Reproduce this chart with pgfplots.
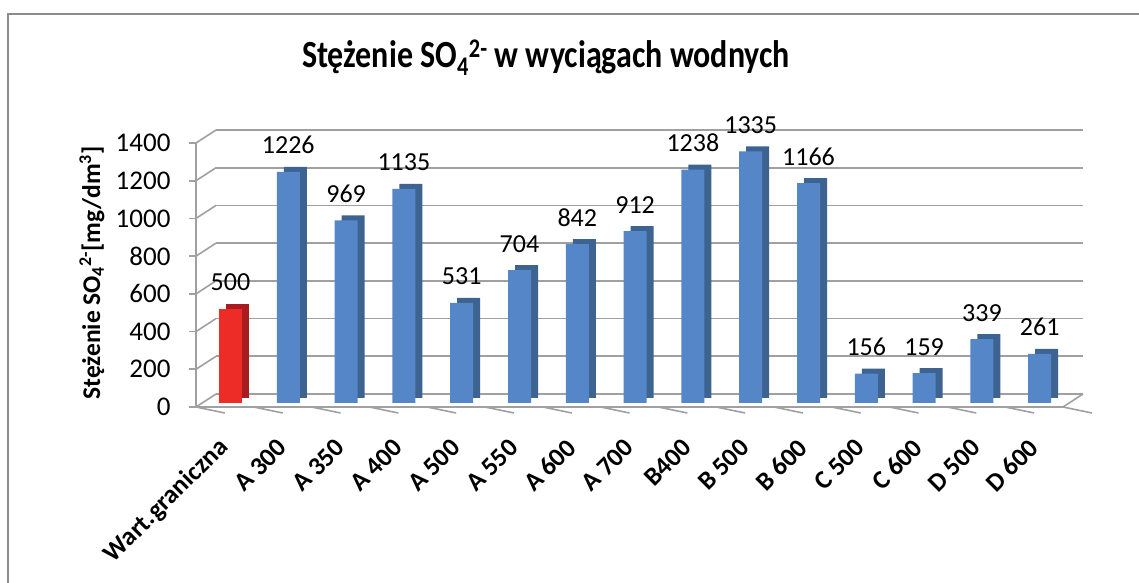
\documentclass[border=0pt]{standalone}
\usepackage{graphicx}
\usepackage{pgfplots}
\pgfplotsset{compat=1.18}
\usepackage{fontspec}
\setmainfont{Carlito}
\definecolor{barfront}{HTML}{5587C8}
\definecolor{barside}{HTML}{3D6391}
\definecolor{redfront}{HTML}{EE2C27}
\definecolor{redside}{HTML}{A81C20}
\definecolor{gridgray}{HTML}{A0A0A0}
\definecolor{framegray}{HTML}{8C8C8C}

\pgfplotsset{
  base/.style={
    scale only axis, width=867bp, height=264bp,
    xmin=-0.5, xmax=14.5, ymin=0, ymax=1400,
    anchor=south west, clip=false,
    /pgf/number format/1000 sep={},
    /pgf/number format/assume math mode=true,
  },
  bare/.style={
    base, axis line style={draw=none}, xtick=\empty, ytick=\empty,
  },
}

\begin{document}
\begin{tikzpicture}
\path[use as bounding box] (0,0) rectangle (1139bp,583bp);
\draw[framegray, line width=2bp] (8bp,0) -- (8bp,569bp) -- (1139bp,569bp);

% back wall grid
\begin{axis}[base, at={(216bp,189bp)},
  axis line style={draw=none}, xtick=\empty,
  ytick={0,200,...,1400}, yticklabels={}, major tick length=0pt,
  ymajorgrids, grid style={gridgray, line width=1.6bp}]
\end{axis}

% front axis with ticks, labels
\begin{axis}[base, at={(196bp,176bp)},
  axis lines=left, axis line style={-, gridgray, line width=1.6bp},
  ytick={0,200,...,1400}, tick align=outside, major tick length=7bp,
  ytick style={gridgray, line width=1.6bp},
  yticklabel style={font=\fontsize{27bp}{30bp}\selectfont, xshift=-15bp},
  xtick={0,...,14}, xtick style={draw=none},
  xticklabels={Wart.graniczna, A 300, A 350, A 400, A 500, A 550, A 600, A 700, B400, B 500, B 600, C 500, C 600, D 500, D 600},
  xticklabel style={xshift=2bp, yshift=-27bp, rotate=45, anchor=east, font=\fontsize{26bp}{30bp}\selectfont\bfseries},
]
\pgfplotsinvokeforeach{0,200,...,1400}{
  \draw[gridgray, line width=1.6bp] (axis cs:-0.5,#1) -- ++(20bp,13bp);
}
\draw[gridgray, line width=1.6bp] (axis cs:14.5,0) -- ++(20bp,13bp);
\pgfplotsinvokeforeach{-0.5,0.5,...,14.5}{
  \draw[gridgray, line width=1.6bp] (axis cs:#1,0) -- ++(0,-6bp);
}
\end{axis}

% bar sides (shadow)
\begin{axis}[bare, at={(196bp,185bp)}, ybar, bar width=23bp]
\addplot[fill=redside, draw=none, bar shift=12.6bp] coordinates {(0,500)};
\addplot[fill=barside, draw=none, bar shift=12.6bp] coordinates {
(1,1226) (2,969) (3,1135) (4,531) (5,704) (6,842) (7,912)
(8,1238) (9,1335) (10,1166) (11,156) (12,159) (13,339) (14,261)};
\end{axis}

% bar fronts
\begin{axis}[bare, at={(196bp,180bp)}, ybar, bar width=23bp,
  nodes near coords,
  nodes near coords style={font=\fontsize{26bp}{30bp}\selectfont, anchor=base, inner sep=0pt, yshift=18bp, text=black}]
\addplot[fill=redfront, draw=none, bar shift=5.6bp] coordinates {(0,500)};
\addplot[fill=barfront, draw=none, bar shift=5.6bp] coordinates {
(1,1226) (2,969) (3,1135) (4,531) (5,704) (6,842) (7,912)
(8,1238) (9,1335) (10,1166) (11,156) (12,159) (13,339) (14,261)};
\end{axis}

\node[anchor=base, font=\fontsize{32bp}{38bp}\selectfont\bfseries] at (546bp,515bp)
  {\scalebox{1}[1.2]{Stężenie SO\textsubscript{4}\textsuperscript{2-} w wyciągach wodnych}};
\node[rotate=90, font=\fontsize{25.5bp}{29bp}\selectfont\bfseries] at (92bp,310bp)
  {Stężenie SO\textsubscript{4}\textsuperscript{2-}[mg/dm\textsuperscript{3}]};
\end{tikzpicture}
\end{document}
